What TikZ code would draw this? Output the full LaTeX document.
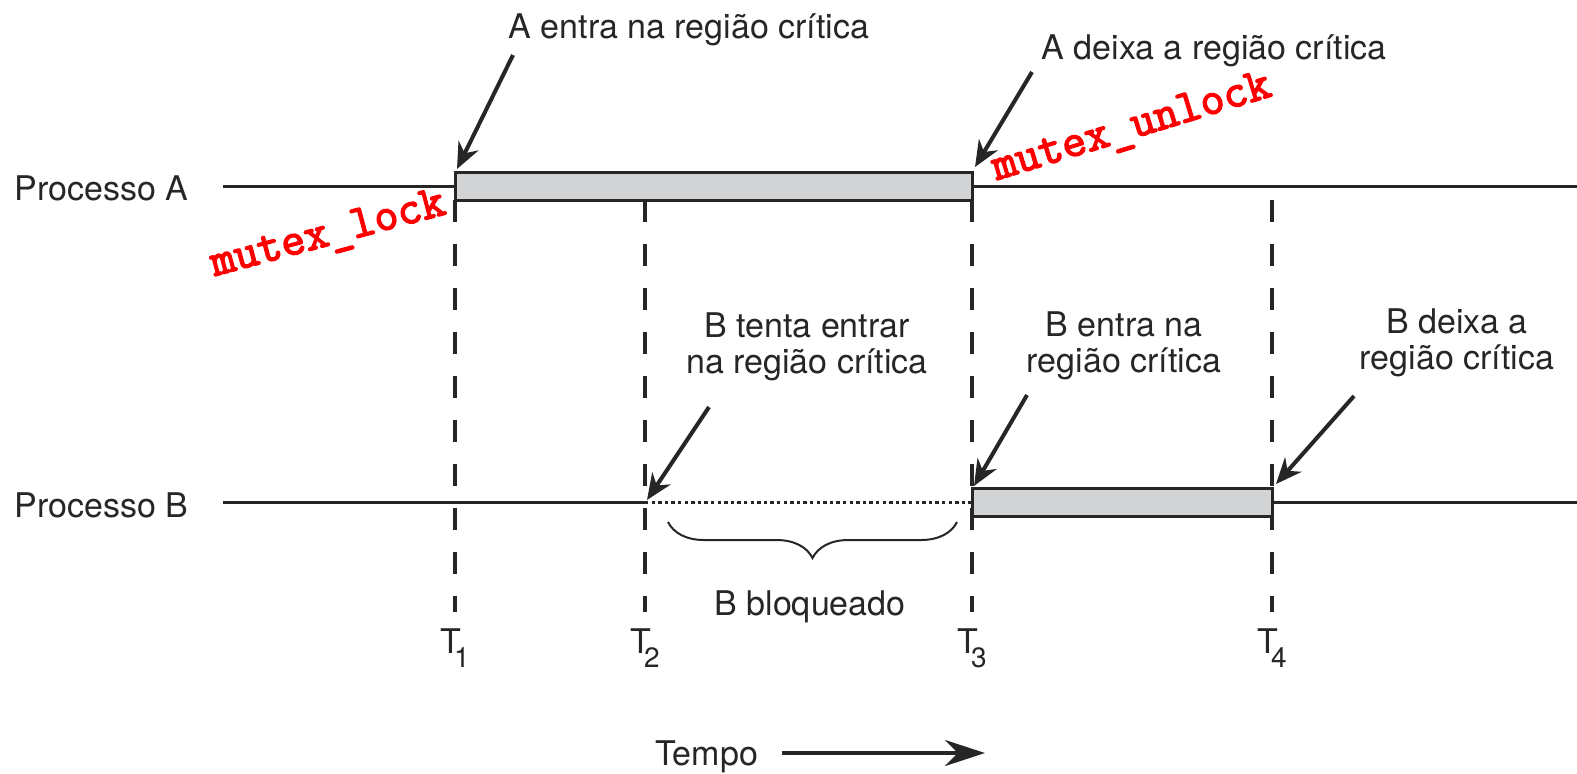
\documentclass[tikz,border=0pt]{standalone}
\usepackage{fontspec}
\setmainfont{TeX Gyre Heros}
\newfontfamily\codefont{Latin Modern Mono}[FakeBold=3]
\usetikzlibrary{arrows.meta,decorations.pathreplacing}
\definecolor{ink}{HTML}{262626}
\definecolor{critgray}{HTML}{D1D3D4}
\definecolor{codered}{HTML}{FF0000}
\newcommand{\tsub}[1]{T\kern-3.5pt\raisebox{-7pt}{\fontsize{14}{14}\selectfont #1}}

\begin{document}
\begin{tikzpicture}[x=0.5pt,y=-0.5pt,
      lbl/.style={font=\fontsize{17}{18}\selectfont,text=ink,inner sep=0pt,align=center},
      code/.style={font=\codefont\fontsize{23.4}{24}\selectfont,text=codered,inner sep=0pt},
      proc/.style={ink,line width=1.5pt},
      crit/.style={draw=ink,fill=critgray,line width=1.5pt},
      tline/.style={ink,line width=2pt,dash pattern=on 11pt off 11pt},
      wait/.style={ink,line width=1.5pt,dash pattern=on 1.7pt off 1.6pt},
      arr/.style={-{Stealth[length=13pt,width=11pt]},ink,line width=2pt}]
    \useasboundingbox (0,0) rectangle (1577,773);
    \foreach \n/\x in {1/455,2/645,3/972,4/1272}{
      \coordinate (t\n) at (\x,200);
      \draw[tline] (t\n) -- ++(0,412);
      \node[lbl,anchor=base west] (T\n) at (\x-15,653) {\tsub{\n}};
    }
    \node[lbl,anchor=base east] (procA) at (189,200) {Processo A};
    \node[lbl,anchor=base east] (procB) at (189,517) {Processo B};
    \coordinate (aS) at (223,186);
    \coordinate (aE) at (1577,186);
    \coordinate (bS) at (223,502);
    \coordinate (bE) at (1577,502);
    \draw[proc] (aS) -- (455,186);
    \path[crit] (455,172) rectangle (972,200);
    \draw[proc] (972,186) -- (aE);
    \draw[proc] (bS) -- (645,502);
    \draw[wait] (645,502) -- (972,502);
    \path[crit] (972,488) rectangle (1272,516);
    \draw[proc] (1272,502) -- (bE);
    \node[lbl,anchor=base] (aentra) at (689,38) {A entra na região crítica};
    \node[lbl,anchor=base] (adeixa) at (1214,59) {A deixa a região crítica};
    \node[lbl,anchor=base] (btenta) at (807,373) {B tenta entrar\\na região crítica};
    \node[lbl,anchor=base] (bentra) at (1124,372) {B entra na\\região crítica};
    \node[lbl,anchor=base] (bdeixa) at (1457,369) {B deixa a\\região crítica};
    \node[lbl,anchor=base] (bbloq) at (810,615) {B bloqueado};
    \node[lbl,anchor=base west] (tempo) at (655,765) {Tempo};
    \node[code,anchor=base,rotate=15] (lock) at (331,245) {mutex\_lock};
    \node[code,anchor=base,rotate=17] (unlock) at (1135,138) {mutex\_unlock};
    \coordinate (aentraT) at (513,55);
    \coordinate (adeixaT) at (1032,72);
    \coordinate (btentaT) at (709,407);
    \coordinate (bentraT) at (1027,395);
    \coordinate (bdeixaT) at (1354,396);
    \draw[arr] (aentraT) -- (457,169);
    \draw[arr] (adeixaT) -- (975,167);
    \draw[arr] (btentaT) -- (647,500);
    \draw[arr] (bentraT) -- (974,486);
    \draw[arr] (bdeixaT) -- (1276,484);
    \draw[ink,line width=1pt,decorate,decoration={brace,amplitude=18pt}] (957,522) -- (668,522);
    \coordinate (tempoS) at (782,753);
    \coordinate (tempoE) at (985,753);
    \draw[ink,line width=2.2pt,-{Stealth[length=20pt,width=13pt]}] (tempoS) -- (tempoE);
\end{tikzpicture}
\end{document}
